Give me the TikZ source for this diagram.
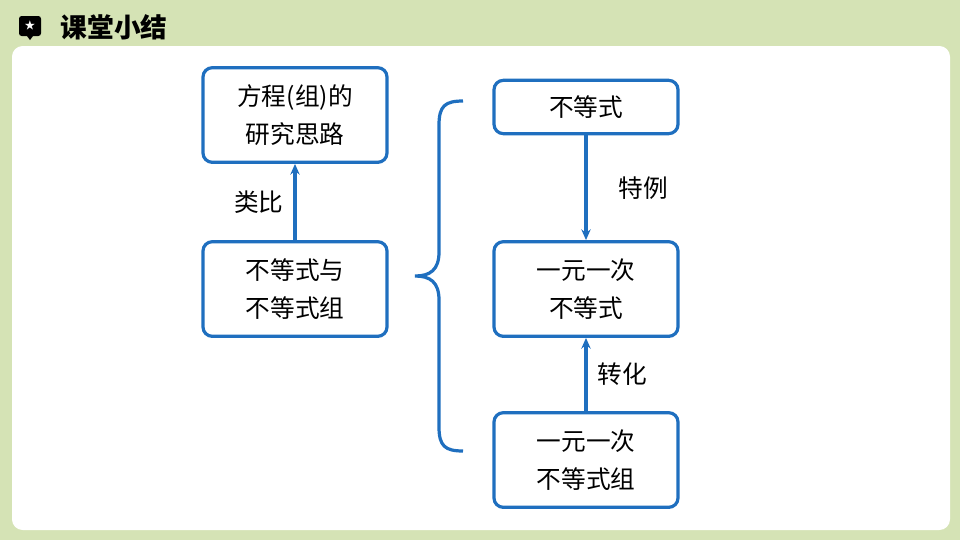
\documentclass[tikz,border=0pt]{standalone}
\usepackage{fontspec}
\setmainfont{Noto Sans CJK SC}
\usetikzlibrary{positioning,arrows.meta}
\definecolor{bgGreen}{HTML}{D5E3B5}
\definecolor{boxBlue}{HTML}{1F6FBF}
\begin{document}
\begin{tikzpicture}[x=0.75pt,y=-0.75pt,>={Stealth[length=8pt,width=7pt]}]
    \tikzset{box/.style={draw=boxBlue,line width=2.4pt,rounded corners=7pt,fill=white,minimum width=138pt,align=center,font=\fontsize{18.5}{28}\selectfont,inner sep=3pt},
      lbl/.style={font=\fontsize{18.5}{20}\selectfont},
      link/.style={->,draw=boxBlue,line width=2.4pt}}
    \fill[bgGreen] (0,0) rectangle (960,540);
    \fill[white,rounded corners=8pt] (12,46) rectangle (950,530);
    % header
    \fill[black,rounded corners=2pt] (19,16) rectangle (41,36);
    \fill[black] (27,36) -- (33,36) -- (30,40) -- cycle;
    \node[white,font=\fontsize{8}{8}\selectfont] at (30,25.5) {★};
    \node[anchor=west,font=\fontsize{20}{20}\selectfont\bfseries] (title) at (56,27) {课堂小结};
    % boxes
    \node[box,minimum height=71pt] (study) at (295,115) {方程(组)的\\研究思路};
    \node[box,minimum height=71pt] (ineqs) at (295,289) {不等式与\\不等式组};
    \node[box,minimum height=40pt] (ineq) at (586,107) {不等式};
    \node[box,minimum height=71pt] (linear) at (586,289) {一元一次\\不等式};
    \node[box,minimum height=71pt] (system) at (586,460) {一元一次\\不等式组};
    % arrows
    \draw[link] (ineqs) -- node[lbl,left=4pt] {类比} (study);
    \draw[link] (ineq) -- node[lbl,right=20pt] {特例} (linear);
    \draw[link] (system) -- node[lbl,right=4pt] {转化} (linear);
    % brace
    \draw[boxBlue,line width=2.4pt] (463,101) .. controls (445,101) and (439,106) .. (439,125)
      -- (439,252) .. controls (439,270) and (430,276) .. (415,276)
      .. controls (430,276) and (439,282) .. (439,300)
      -- (439,427) .. controls (439,446) and (445,451) .. (463,451);
\end{tikzpicture}
\end{document}
